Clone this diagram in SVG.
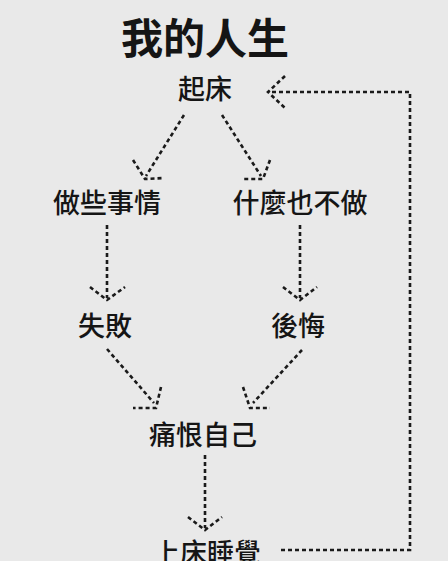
<svg xmlns="http://www.w3.org/2000/svg" width="448" height="561" viewBox="0 0 448 561">
<style>
.bg{fill:#e9e9e9}
.t{font-family:"Noto Sans CJK TC","Noto Sans CJK SC",sans-serif;fill:#151515;text-anchor:middle}
.n{font-size:27px;font-weight:500}
.title{font-size:42px;font-weight:700}
.c{fill:none;stroke:#1a1a1a;stroke-width:2.6;stroke-dasharray:4 3}
</style>
<rect class="bg" x="0" y="0" width="448" height="561"/>
<text class="t title" x="205" y="54">我的人生</text>
<g id="n_qichuang"><text class="t n" x="205" y="99">起床</text></g>
<g id="n_zuo"><text class="t n" x="107" y="213">做些事情</text></g>
<g id="n_shenme"><text class="t n" x="300" y="213">什麼也不做</text></g>
<g id="n_shibai"><text class="t n" x="105" y="336">失敗</text></g>
<g id="n_houhui"><text class="t n" x="298" y="336">後悔</text></g>
<g id="n_tonghen"><text class="t n" x="203" y="445">痛恨自己</text></g>
<g id="n_shangchuang"><text class="t n" x="207" y="563">上床睡覺</text></g>
<g id="connectors">
<path class="c" d="M184 115 L146 176"/>
<path class="c" d="M133 160 L145 179 L164 178"/>
<path class="c" d="M222 115 L261 176"/>
<path class="c" d="M270 160 L263 179 L243 179"/>
<path class="c" d="M107 225 L107 298"/>
<path class="c" d="M90 287 L107 300 L125 287"/>
<path class="c" d="M300 225 L300 298"/>
<path class="c" d="M283 287 L300 300 L317 287"/>
<path class="c" d="M107 349 L154 403"/>
<path class="c" d="M161 387 L156 408 L133 408"/>
<path class="c" d="M302 350 L253 403"/>
<path class="c" d="M243 387 L250 408 L270 408"/>
<path class="c" d="M205 455 L205 528"/>
<path class="c" d="M188 517 L205 530 L222 517"/>
<path class="c" d="M281 550 L410 550 L410 92 L272 92"/>
<path class="c" d="M285 76 L268 92 L286 109"/>
</g>
</svg>
